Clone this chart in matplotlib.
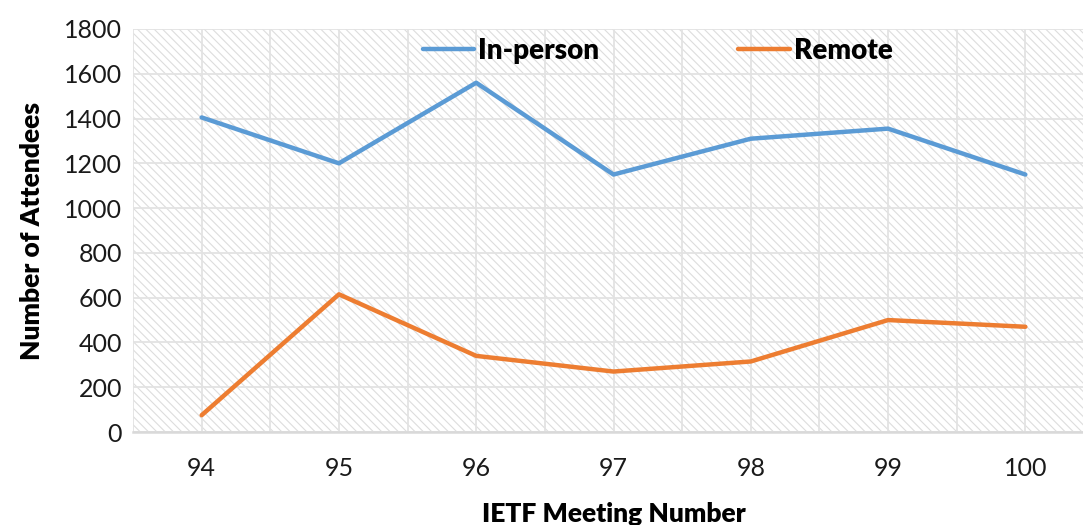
import matplotlib.pyplot as plt
from matplotlib.patches import Rectangle
from matplotlib.ticker import MultipleLocator

plt.rcParams['font.family'] = ['Lato', 'DejaVu Sans']
plt.rcParams['hatch.linewidth'] = 0.8

meetings = [94, 95, 96, 97, 98, 99, 100]
in_person = [1405, 1200, 1560, 1150, 1310, 1355, 1150]
remote = [75, 615, 340, 270, 315, 500, 470]

fig = plt.figure(figsize=(10.83, 5.25), dpi=100)
ax = fig.add_axes([133 / 1083, 93 / 525, 961 / 1083, 403 / 525])

# hatched background
ax.add_patch(Rectangle((0, 0), 1, 1, transform=ax.transAxes, facecolor='white',
                       edgecolor='#dddddd', lw=0, hatch='\\' * 4, zorder=0))

ax.plot(meetings, in_person, color='#5B9BD5', lw=3.2, label='In-person', zorder=3,
        solid_capstyle='round')
ax.plot(meetings, remote, color='#ED7D31', lw=3.2, label='Remote', zorder=3,
        solid_capstyle='round')

ax.set_xlim(93.5, 100.5)
ax.set_ylim(0, 1800)
ax.set_xticks(meetings)
ax.xaxis.set_minor_locator(MultipleLocator(0.5))
ax.yaxis.set_major_locator(MultipleLocator(200))
ax.grid(True, which='both', axis='x', color='#e3e3e3', lw=1.3, zorder=1)
ax.grid(True, which='major', axis='y', color='#e3e3e3', lw=1.3, zorder=1)
ax.set_axisbelow(True)

for s in ['top', 'right', 'left']:
    ax.spines[s].set_visible(False)
ax.spines['bottom'].set_color('#d9d9d9')
ax.spines['bottom'].set_linewidth(1.8)
ax.tick_params(length=0, labelsize=18, colors='#1a1a1a', pad=8)
ax.tick_params(axis='x', pad=18)
ax.tick_params(which='minor', length=0)

ax.set_xlabel('IETF Meeting Number', fontsize=19, fontweight='heavy', labelpad=16)
ax.set_ylabel('Number of Attendees', fontsize=19, fontweight='heavy', labelpad=14)

ax.legend(loc='center', bbox_to_anchor=(0.546, 0.946), ncol=2, frameon=False,
          prop={'size': 20, 'weight': 'heavy'}, handlelength=1.85,
          handletextpad=0.15, columnspacing=5.0)

plt.savefig('out.png', dpi=100)
